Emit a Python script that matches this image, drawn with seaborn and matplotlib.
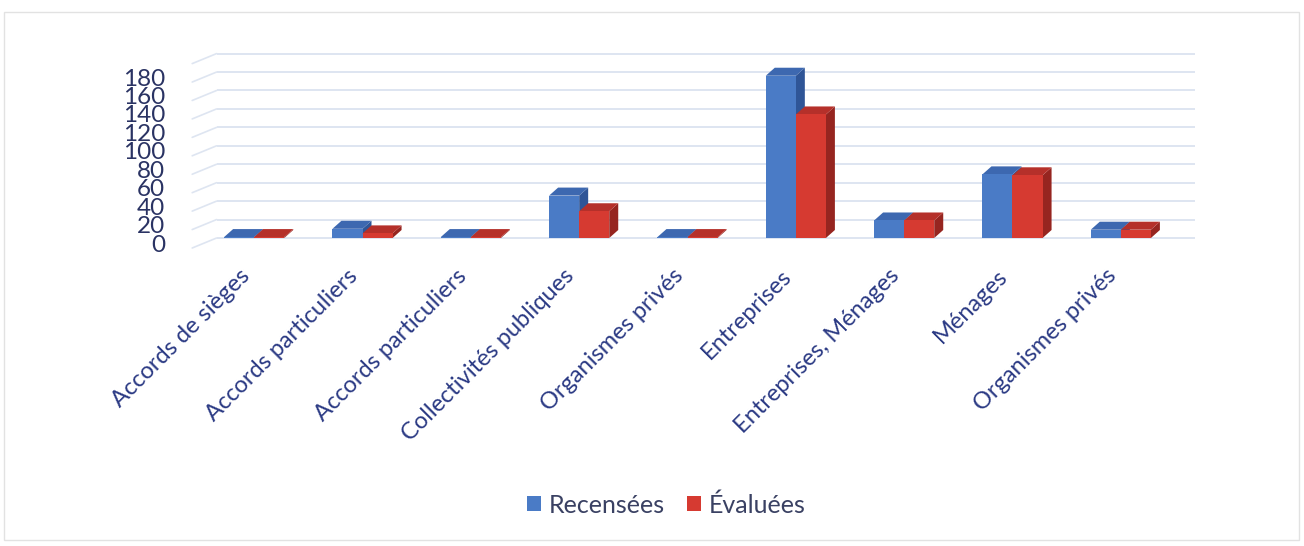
import matplotlib
matplotlib.use("Agg")
import matplotlib.pyplot as plt
from matplotlib import transforms
from matplotlib.patches import Polygon, Rectangle
import pandas as pd
import seaborn as sns

# ---- data -------------------------------------------------------------
categories = [
    "Accords de sièges",
    "Accords particuliers",
    "Accords particuliers",
    "Collectivités publiques",
    "Organismes privés",
    "Entreprises",
    "Entreprises, Ménages",
    "Ménages",
    "Organismes privés",
]
series_names = ["Recensées", "Évaluées"]
recensees = [1, 10, 1, 46, 1, 176, 19, 69, 9]
evaluees = [1, 5, 1, 29, 1, 134, 19, 68, 9]
y_ticks = [0, 20, 40, 60, 80, 100, 120, 140, 160, 180]
wall_levels = [0, 20, 40, 60, 80, 100, 120, 140, 160, 180, 200]

# ---- style ------------------------------------------------------------
sns.set_theme(style="white")
plt.rcParams["font.family"] = ["Lato", "DejaVu Sans"]

TEXT_NAVY = "#2A3363"
LABEL_BLUE = "#2B3A84"
GRID = "#DEE5F1"
faces = {
    "Recensées": {"front": "#4A7BC6", "side": "#2F5597", "top": "#3D68B0"},
    "Évaluées": {"front": "#D63A31", "side": "#962520", "top": "#B5302A"},
}

rows = []
for i, (r, e) in enumerate(zip(recensees, evaluees)):
    rows.append({"pos": i, "series": series_names[0], "value": r})
    rows.append({"pos": i, "series": series_names[1], "value": e})
df = pd.DataFrame(rows)

W, H = 1304, 546
fig = plt.figure(figsize=(W / 100, H / 100), dpi=100)
fig.patch.set_facecolor("white")

# thin outer frame of the chart area
fig.add_artist(Rectangle((4 / W, 6 / H), 1295 / W, 528 / H,
                         transform=fig.transFigure, fill=False,
                         edgecolor="#E2E2E2", linewidth=1.0))

ax = fig.add_axes([200 / W, 308 / H, 975 / W, 184.4 / H])
sns.barplot(data=df, x="pos", y="value", hue="series", hue_order=series_names,
            palette=[faces[s]["front"] for s in series_names], saturation=1,
            width=0.555, ax=ax, linewidth=0)

ax.set_xlim(-0.5, 8.5)
ax.set_ylim(0, 200)
for s in ax.spines.values():
    s.set_visible(False)
ax.set_xlabel("")
ax.set_ylabel("")

# back wall grid and the slanted side wall
ax.hlines(wall_levels, 0.017, 1.02, transform=ax.get_yaxis_transform(),
          colors=GRID, linewidth=1.4, zorder=0.5, clip_on=False)
side_dy = 10 / 0.922
for lv in wall_levels:
    ax.plot([-0.008, 0.017], [lv - side_dy, lv], transform=ax.get_yaxis_transform(),
            color=GRID, linewidth=1.2, zorder=0.5, clip_on=False)

# depth faces of each column
depth_x = 9 / 108.3
depth_y = 8 / 0.922
for k, (cont, name) in enumerate(zip(ax.containers, series_names)):
    col = faces[name]
    for bar in cont:
        x0, w, h = bar.get_x(), bar.get_width(), bar.get_height()
        x1 = x0 + w
        side = Polygon([(x1, 0), (x1 + depth_x, depth_y),
                        (x1 + depth_x, h + depth_y), (x1, h)],
                       closed=True, facecolor=col["side"], edgecolor="none",
                       zorder=2 + k * 0.1)
        top = Polygon([(x0, h), (x1, h), (x1 + depth_x, h + depth_y),
                       (x0 + depth_x, h + depth_y)],
                      closed=True, facecolor=col["top"], edgecolor="none",
                      zorder=2 + k * 0.1)
        ax.add_patch(side)
        ax.add_patch(top)
        bar.set_zorder(2.01 + k * 0.1)

# axes text
ax.set_yticks(y_ticks)
ax.set_yticklabels([str(v) for v in y_ticks])
ax.tick_params(axis="y", length=0, pad=25, labelsize=17.5, labelcolor=TEXT_NAVY)
shift_y = transforms.ScaledTranslation(0, -5 / 100, fig.dpi_scale_trans)
for lab in ax.get_yticklabels():
    lab.set_transform(lab.get_transform() + shift_y)

ax.set_xticks(range(len(categories)))
ax.set_xticklabels(categories, rotation=45, ha="right", va="center",
                   rotation_mode="anchor")
ax.tick_params(axis="x", length=0, pad=25, labelsize=17, labelcolor=LABEL_BLUE)
shift_x = transforms.ScaledTranslation(-8 / 100, 0, fig.dpi_scale_trans)
for lab in ax.get_xticklabels():
    lab.set_transform(lab.get_transform() + shift_x)

# legend below the plot
handles, labels = ax.get_legend_handles_labels()
if ax.get_legend() is not None:
    ax.get_legend().remove()
fig.legend(handles, labels, loc="center", bbox_to_anchor=(0.511, 0.075),
           ncol=2, frameon=False, fontsize=18, handlelength=0.55,
           handleheight=0.55, handletextpad=0.3, columnspacing=0.9,
           labelcolor="#3A4163")

fig.savefig("out.png", dpi=100)
